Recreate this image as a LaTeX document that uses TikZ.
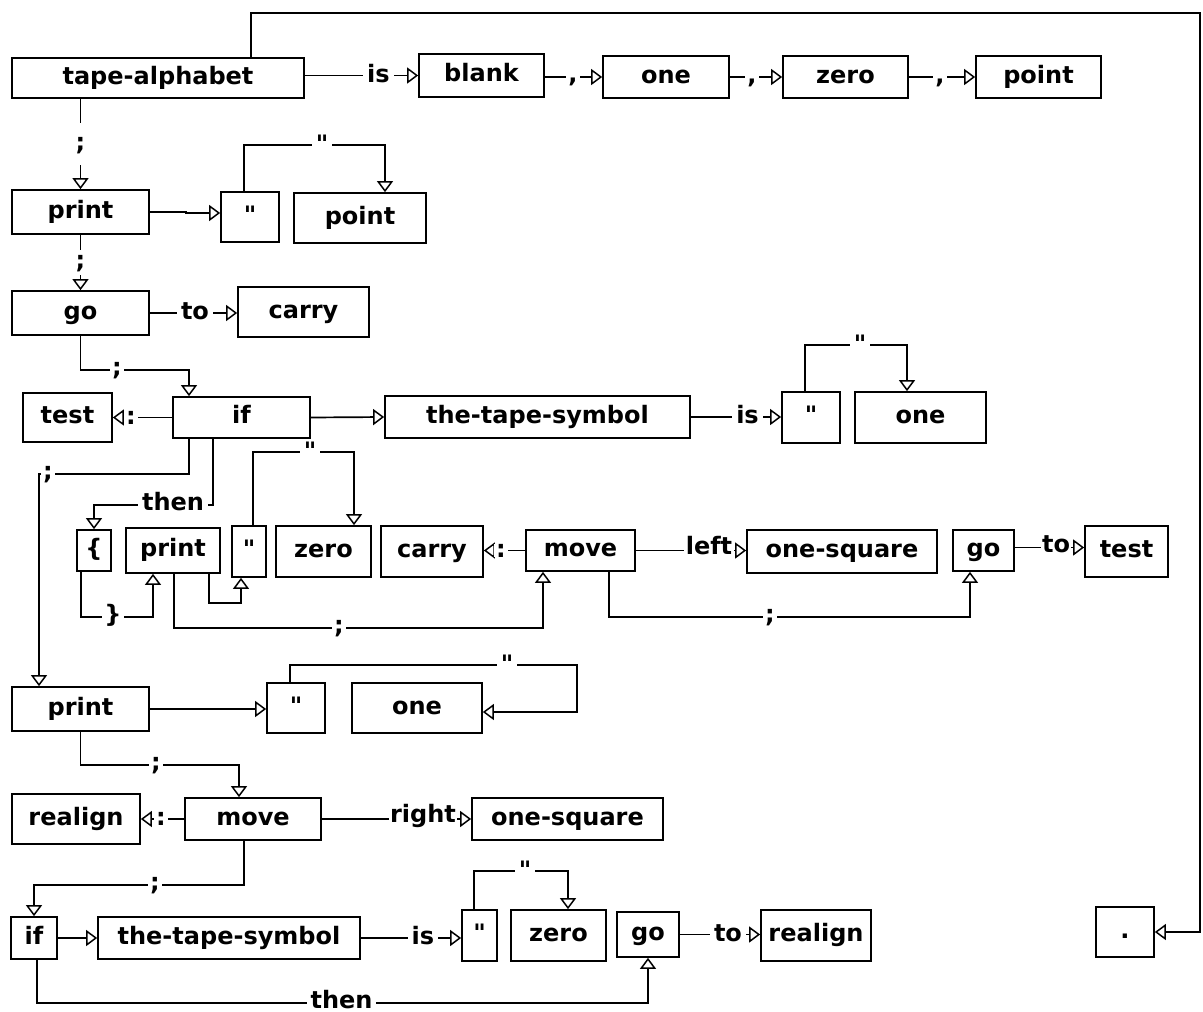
\documentclass[tikz,border=0pt]{standalone}
\usepackage{fontspec}
\newfontfamily\dvs{DejaVu Sans}
\usetikzlibrary{arrows.meta}
\tikzset{
  txt/.style={font=\dvs\bfseries\fontsize{24}{27}\selectfont},
  bx/.style={txt, draw, line width=1.7pt, inner sep=0pt, text height=17.5pt, text depth=5pt},
  wh/.style 2 args={minimum width=#1pt, minimum height=#2pt},
  ln/.style={line width=1.7pt},
  arr/.style={ln, -{Triangle[open, length=11pt, width=16pt, line width=1.5pt]}},
  lbl/.style={txt, fill=white, inner xsep=4pt, inner ysep=0pt, text height=13pt, text depth=0pt},
  pun/.style={inner xsep=2.5pt},
  tight/.style={inner xsep=1.5pt}
}
\begin{document}
\begin{tikzpicture}[x=1pt,y=-1pt]
\useasboundingbox[fill=white] (0,0) rectangle (1203,1012);
% boxes
\node[bx,wh={292}{40}] (ta) at (158,78) {tape-alphabet};
\node[bx,wh={125}{43}] (blank) at (481.5,75.5) {blank};
\node[bx,wh={126}{42}] (onea) at (666,77) {one};
\node[bx,wh={125}{42}] (zeroa) at (845.5,77) {zero};
\node[bx,wh={125}{42}] (pointa) at (1038.5,77) {point};
\node[bx,wh={137}{44}] (printa) at (80.5,212) {print};
\node[bx,wh={58}{50}] (qa) at (250,217) {"};
\node[bx,wh={132}{50}] (pointb) at (360,218) {point};
\node[bx,wh={137}{44}] (goa) at (80.5,313) {go};
\node[bx,wh={131}{50}] (carrya) at (303.5,312) {carry};
\node[bx,wh={89}{49}] (testa) at (67.5,417.5) {test};
\node[bx,wh={137}{41}] (ifa) at (241.5,417.5) {if};
\node[bx,wh={305}{42}] (ttsa) at (537.5,417) {the-tape-symbol};
\node[bx,wh={58}{51}] (qb) at (811,417.5) {"};
\node[bx,wh={131}{51}] (oneb) at (920.5,417.5) {one};
\node[bx,wh={34}{41}] (lb) at (94,550.5) {\{};
\node[bx,wh={94}{45}] (printb) at (173,550.5) {print};
\node[bx,wh={34}{51}] (qc) at (249,551.5) {"};
\node[bx,wh={95}{51}] (zerob) at (323.5,551.5) {zero};
\node[bx,wh={102}{51}] (carryb) at (432,551.5) {carry};
\node[bx,wh={109}{41}] (movea) at (580.5,550.5) {move};
\node[bx,wh={190}{43}] (onesqa) at (842,551.5) {one-square};
\node[bx,wh={61}{41}] (gob) at (983.5,550.5) {go};
\node[bx,wh={83}{51}] (testb) at (1126.5,551.5) {test};
\node[bx,wh={137}{44}] (printc) at (80.5,709) {print};
\node[bx,wh={58}{50}] (qd) at (296,708) {"};
\node[bx,wh={130}{50}] (onec) at (417,708) {one};
\node[bx,wh={128}{50}] (realigna) at (76,819) {realign};
\node[bx,wh={136}{42}] (moveb) at (253,819) {move};
\node[bx,wh={191}{42}] (onesqb) at (567.5,819) {one-square};
\node[bx,wh={46}{42}] (ifb) at (34,938) {if};
\node[bx,wh={262}{42}] (ttsb) at (229,938) {the-tape-symbol};
\node[bx,wh={35}{51}] (qe) at (479.5,935.5) {"};
\node[bx,wh={95}{51}] (zeroc) at (558.5,935.5) {zero};
\node[bx,wh={62}{45}] (goc) at (648,934.5) {go};
\node[bx,wh={110}{51}] (realignb) at (816,935.5) {realign};
\node[bx,wh={58}{50}] (dot) at (1125,932) {.};
\coordinate (tr) at (1200,13);
% connectors
\draw[arr] ([xshift=240pt]ta.north west) |- (tr) |- (dot.east);
\draw[arr] (ta.east |- blank.west) -- (blank.west);
\draw[arr] (blank.east |- onea.west) -- (onea.west);
\draw[arr] (onea.east) -- (zeroa.west);
\draw[arr] (zeroa.east) -- (pointa.west);
\draw[arr] (printa.north |- ta.south) -- (printa.north);
\draw[arr] (printa.east) -- ++(36,0) |- ([yshift=4pt]qa.west);
\draw[arr] ([xshift=-6pt]qa.north) -- ++(0,-46) -| ([xshift=25pt]pointb.north);
\draw[arr] (printa.south) -- (goa.north);
\draw[arr] (goa.east) -- (goa.east -| carrya.west);
\draw[arr] (goa.south) -- ++(0,34) -| ([xshift=-52.5pt]ifa.north);
\draw[arr] (ifa.west) -- (ifa.west -| testa.east);
\draw[arr] (ifa.east) -- (ttsa.west);
\draw[arr] (ttsa.east) -- (ttsa.east -| qb.west);
\draw[arr] ([xshift=-6pt]qb.north) -- ++(0,-46) -| ([xshift=-13.5pt]oneb.north);
\draw[arr] ([xshift=-52.5pt]ifa.south) -- ++(0,35) -| ([xshift=-41.5pt]printc.north);
\draw[arr] ([xshift=-28.5pt]ifa.south) -- ++(0,66) -| (lb.north);
\draw[arr] ([xshift=-13pt]lb.south) -- ++(0,45) -| ([xshift=-20pt]printb.south);
\draw[arr] ([xshift=36pt]printb.south) -- ++(0,29) -| ([xshift=-8pt]qc.south);
\draw[arr] ([xshift=1pt]printb.south) -- ++(0,54) -| ([xshift=-37.5pt]movea.south);
\draw[arr] ([xshift=4pt]qc.north) -- ++(0,-73) -| ([xshift=30.5pt]zerob.north);
\draw[arr] (movea.west) -- (movea.west -| carryb.east);
\draw[arr] (movea.east) -- (movea.east -| onesqa.west);
\draw[arr] ([xshift=28.5pt]movea.south) -- ++(0,45) -| ([xshift=-13.5pt]gob.south);
\draw[arr] ([yshift=3pt]gob.east) -- ([yshift=3pt]gob.east -| testb.west);
\draw[arr] (printc.east) -- (printc.east -| qd.west);
\draw[arr] ([xshift=-6pt]qd.north) -- ++(0,-17) -| ([xshift=94pt,yshift=-4pt]onec.east) -- ([yshift=-4pt]onec.east);
\draw[arr] (printc.south) -- ++(0,33) -| ([xshift=-14pt]moveb.north);
\draw[arr] (moveb.west) -- (moveb.west -| realigna.east);
\draw[arr] (moveb.east) -- (moveb.east -| onesqb.west);
\draw[arr] ([xshift=-9pt]moveb.south) -- ++(0,44) -| (ifb.north);
\draw[arr] (ifb.east) -- (ifb.east -| ttsb.west);
\draw[arr] (ttsb.east) -- (ttsb.east -| qe.west);
\draw[arr] ([xshift=-5.5pt]qe.north) -- ++(0,-38) -| ([xshift=9.5pt]zeroc.north);
\draw[arr] (goc.east) -- (goc.east -| realignb.west);
\draw[arr] ([xshift=3pt]ifb.south) -- ++(0,43) -| (goc.south);
% labels
\node[lbl] (la) at (378.5,75.5) {is};
\node[lbl,pun] (lb1) at (573,76) {,};
\node[lbl,pun] (lc) at (752,77) {,};
\node[lbl,pun] (ld) at (940,77) {,};
\node[lbl,inner ysep=14.5pt] (le) at (80.5,144) {;};
\node[lbl] (lf) at (322,146) {"};
\node[lbl,inner ysep=6pt] (lg) at (80.5,262) {;};
\node[lbl] (lh) at (195,313) {to};
\node[lbl,pun] (li) at (117,369) {;};
\node[lbl,pun] (lj) at (131,417.5) {:};
\node[lbl] (lk) at (747.5,417) {is};
\node[lbl] (ll) at (860,346) {"};
\node[lbl,pun] (lm) at (48,473) {;};
\node[lbl] (ln) at (173,504) {then};
\node[lbl,pun] (lo) at (113,616) {\}};
\node[lbl,pun] (lp) at (339,627) {;};
\node[lbl] (lq) at (310,453) {"};
\node[lbl,pun] (lr) at (501,550.5) {:};
\node[lbl,tight] (ls) at (709,548) {left};
\node[lbl,pun] (lt) at (770,616) {;};
\node[lbl,tight] (lu) at (1056,546) {to};
\node[lbl] (lv) at (507,666) {"};
\node[lbl,pun] (lw) at (156,764) {;};
\node[lbl,pun] (lx) at (161,819) {:};
\node[lbl,tight] (ly) at (423,816) {right};
\node[lbl,pun] (lz) at (155,884) {;};
\node[lbl] (lA) at (423,938) {is};
\node[lbl] (lB) at (525,872) {"};
\node[lbl] (lC) at (728,934.5) {to};
\node[lbl] (lD) at (341.5,1002) {then};
\end{tikzpicture}
\end{document}
